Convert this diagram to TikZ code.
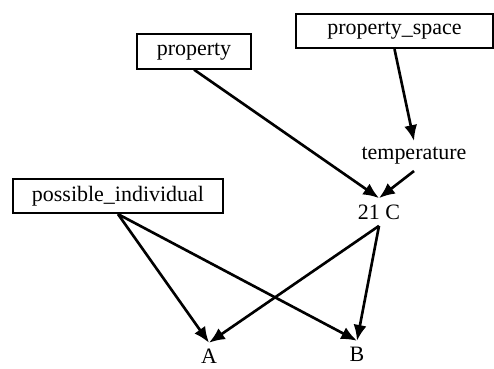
\documentclass[tikz,border=0pt]{standalone}
\usepackage{fontspec}
\setmainfont{Liberation Serif}
\usepackage{tikz}
\usetikzlibrary{positioning, arrows.meta}
\tikzset{
  cls/.style={draw, line width=1pt, minimum height=0.69cm, inner sep=2pt, font=\fontsize{12.5}{14}\selectfont},
  val/.style={inner sep=3.5pt, font=\fontsize{12.5}{14}\selectfont},
  rel/.style={line width=1.5pt, -{Latex[length=9pt,width=7.5pt]}}
}
\begin{document}
\begin{tikzpicture}
      \useasboundingbox (0,0) rectangle (9.88,7.36);
      % classes
      \node[cls, minimum width=3.94cm] (pspace) at (7.89,6.74) {property\_space};
      \node[cls, minimum width=2.28cm] (prop) at (3.88,6.33) {property};
      \node[cls, minimum width=4.2cm] (posind) at (2.36,3.44) {possible\_individual};
      % instances
      \node[val] (temp) at (8.28,4.24) {temperature};
      \node[val] (deg) at (7.58,3.12) {21 C};
      \node[val] (a) at (4.18,0.23) {A};
      \node[val] (b) at (7.14,0.27) {B};
      % relations
      \draw[rel] (pspace.south) -- (temp.north);
      \draw[rel] (temp.south) -- (deg.north);
      \draw[rel] (prop.south) -- (deg.north);
      \draw[rel] (posind.south) -- (a.north);
      \draw[rel] (posind.south) -- (b.north);
      \draw[rel] (deg.south) -- (a.north);
      \draw[rel] (deg.south) -- (b.north);
    \end{tikzpicture}
\end{document}
